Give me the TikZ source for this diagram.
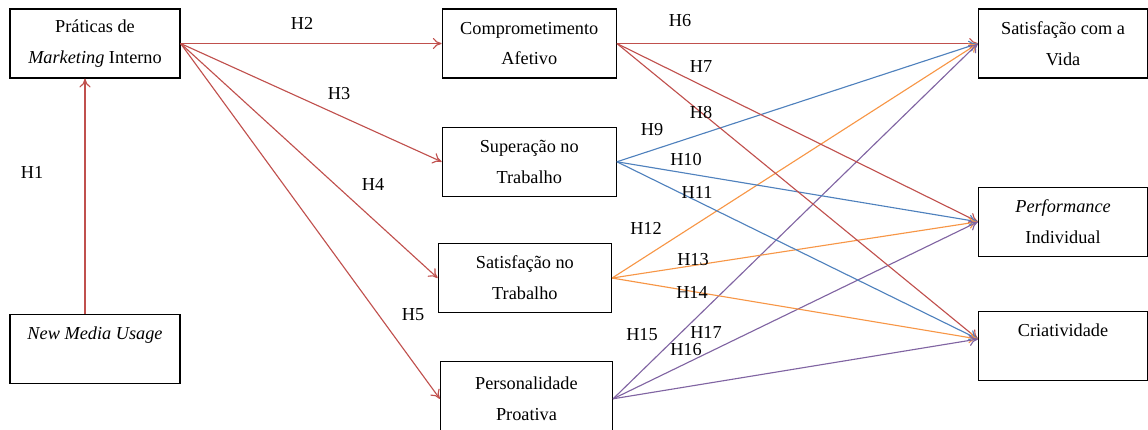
\documentclass[tikz,border=0pt]{standalone}
\usepackage{fontspec}
\setmainfont{Liberation Serif}
\usepackage{xcolor}
\usetikzlibrary{arrows.meta,calc,positioning}

\definecolor{hred}{HTML}{C0504D}
\definecolor{hblue}{HTML}{4F81BD}
\definecolor{horange}{HTML}{F79646}
\definecolor{hpurple}{HTML}{8064A2}

\tikzset{
  construct/.style={draw, line width=0.9pt, align=center, minimum height=1.725cm,
    inner sep=2pt, font=\fontsize{13}{22}\selectfont},
  hyp/.style={font=\fontsize{13}{15}\selectfont, inner sep=0pt},
  path/.style={-{To[length=0.22cm,width=0.28cm]}, line width=0.8pt}
}

\begin{document}
\begin{tikzpicture}
    \useasboundingbox (0,0) rectangle (28.7,-10.725);

    \node[construct, minimum width=4.25cm] (pmi) at (2.375,-1.0875)
      {Práticas de\\ \textit{Marketing} Interno};
    \node[construct, minimum width=4.25cm, below=5.875cm of pmi] (nmu)
      {\textit{New Media Usage}\\ \mbox{}};

    \node[construct, minimum width=4.35cm, right=6.525cm of pmi] (ca)
      {Comprometimento\\ Afetivo};
    \node[construct, minimum width=4.35cm, below=1.2cm of ca] (snt)
      {Superação no\\ Trabalho};
    \node[construct, minimum width=4.33cm, below=1.15cm of snt, xshift=-0.11cm] (sat)
      {Satisfação no\\ Trabalho};
    \node[construct, minimum width=4.3cm, minimum height=1.85cm,
      below=1.2cm of sat, xshift=0.04cm] (pp)
      {Personalidade\\ Proativa};

    \node[construct, minimum width=4.225cm, right=9.025cm of ca] (sv)
      {Satisfação com a\\ Vida};
    \node[construct, minimum width=4.225cm, below=2.7cm of sv] (pi)
      {\textit{Performance}\\ Individual};
    \node[construct, minimum width=4.225cm, below=1.35cm of pi] (cri)
      {Criatividade\\ \mbox{}};

    \coordinate (crin) at ([yshift=0.175cm]cri.west);

    % hypotheses from marketing interno
    \draw[path, hred] ([xshift=-0.25cm]nmu.north) -- ([xshift=-0.25cm]pmi.south);
    \foreach \t in {ca,snt,sat,pp}
      \draw[path, hred] (pmi.east) -- (\t.west);

    % hypotheses towards the outcomes
    \foreach \t in {sv.west,pi.west,crin} {
      \draw[path, hred] (ca.east) -- (\t);
      \draw[path, hblue] (snt.east) -- (\t);
      \draw[path, horange] (sat.east) -- (\t);
      \draw[path, hpurple] (pp.east) -- (\t);
    }

    \node[hyp] (h1) at (0.8,-4.3) {H1};
    \node[hyp] (h2) at (7.55,-0.575) {H2};
    \node[hyp] (h3) at (8.475,-2.35) {H3};
    \node[hyp] (h4) at (9.325,-4.6) {H4};
    \node[hyp] (h5) at (10.325,-7.875) {H5};
    \node[hyp] (h6) at (17.0,-0.525) {H6};
    \node[hyp] (h7) at (17.525,-1.675) {H7};
    \node[hyp] (h8) at (17.525,-2.825) {H8};
    \node[hyp] (h9) at (16.3,-3.25) {H9};
    \node[hyp] (h10) at (17.15,-4.0) {H10};
    \node[hyp] (h11) at (17.425,-4.8) {H11};
    \node[hyp] (h12) at (16.15,-5.7) {H12};
    \node[hyp] (h13) at (17.325,-6.5) {H13};
    \node[hyp] (h14) at (17.3,-7.3) {H14};
    \node[hyp] (h15) at (16.05,-8.375) {H15};
    \node[hyp] (h16) at (17.15,-8.73) {H16};
    \node[hyp] (h17) at (17.65,-8.3) {H17};
\end{tikzpicture}
\end{document}
